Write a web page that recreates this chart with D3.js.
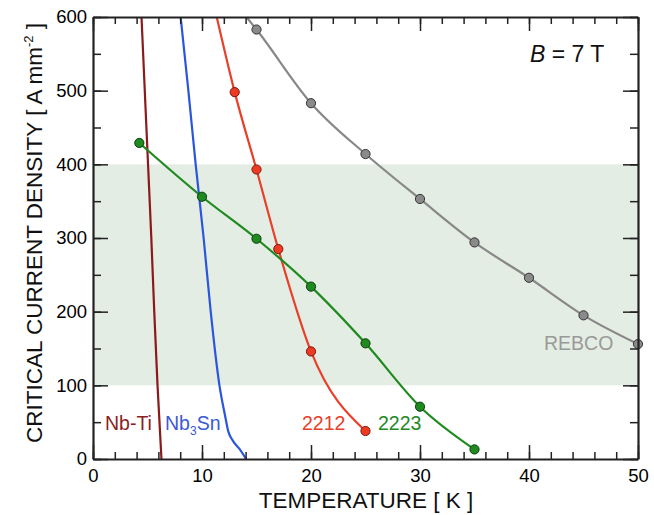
<!DOCTYPE html>
<html>
<head>
<meta charset="utf-8">
<script src="https://cdn.jsdelivr.net/npm/d3@7"></script>
<style>
  html, body { margin: 0; padding: 0; background: #fff; }
  svg { display: block; font-family: "Liberation Sans", Arial, Helvetica, sans-serif; }
</style>
</head>
<body>
<svg id="chart" width="654" height="515"></svg>
<script>
// ---------- DATA ----------
const xTicks = [0, 10, 20, 30, 40, 50];
const yTicks = [0, 100, 200, 300, 400, 500, 600];
const bandRange = [100, 400];

// Nb-Ti (line only): temperature, Jc
const nbtiT  = [4.45, 5.05, 5.35, 5.62, 5.92, 6.28];
const nbtiJ  = [600, 400, 300, 200, 100, 0];

// Nb3Sn (line only)
const nb3snT = [8.04, 8.75, 9.42, 10.15, 10.8, 11.6, 12.1, 12.41, 12.87, 13.49, 14.04];
const nb3snJ = [600, 500, 400, 300, 200, 100, 60, 37.5, 24, 12.6, 0];

// Bi-2212 measured points + line extension to top
const b2212T = [13, 15, 17, 20, 25];
const b2212J = [498, 393, 285, 146, 38];
const b2212ExtT = [11.35];
const b2212ExtJ = [600];

// Bi-2223 measured points
const b2223T = [4.25, 10, 15, 20, 25, 30, 35];
const b2223J = [429, 356, 299, 234, 157, 71, 13];

// REBCO measured points + line extension to top
const rebcoT = [15, 20, 25, 30, 35, 40, 45, 50];
const rebcoJ = [583, 483, 414, 353, 294, 246, 195, 156];
const rebcoExtT = [14.08];
const rebcoExtJ = [600];

// ---------- LAYOUT ----------
const svg = d3.select("#chart");
const L = 93, R = 638, T = 17, B = 459;
const x = d3.scaleLinear().domain([0, 50]).range([L, R]);
const y = d3.scaleLinear().domain([0, 600]).range([B, T]);

const zip = (a, b) => a.map((v, i) => [v, b[i]]);

// clip
svg.append("defs").append("clipPath").attr("id", "plotclip")
  .append("rect").attr("x", L).attr("y", T).attr("width", R - L).attr("height", B - T);

// band
svg.append("rect")
  .attr("x", x(0)).attr("width", x(50) - x(0))
  .attr("y", y(bandRange[1])).attr("height", y(bandRange[0]) - y(bandRange[1]))
  .attr("fill", "#e4ede3");

const plot = svg.append("g").attr("clip-path", "url(#plotclip)");
const line = d3.line().x(d => x(d[0])).y(d => y(d[1])).curve(d3.curveMonotoneX);

const series = [
  { pts: zip(nbtiT, nbtiJ), color: "#8b1a1a", markers: [] },
  { pts: zip(nb3snT, nb3snJ), color: "#2a55dd", markers: [] },
  { pts: zip(b2212ExtT, b2212ExtJ).concat(zip(b2212T, b2212J)), color: "#e8402a",
    markers: zip(b2212T, b2212J), mfill: "#ee3a22", mstroke: "#7a1a10" },
  { pts: zip(b2223T, b2223J), color: "#1f8a1f",
    markers: zip(b2223T, b2223J), mfill: "#1f8a1f", mstroke: "#0d3d0d" },
  { pts: zip(rebcoExtT, rebcoExtJ).concat(zip(rebcoT, rebcoJ)), color: "#888888",
    markers: zip(rebcoT, rebcoJ), mfill: "#8a8a8a", mstroke: "#333333" }
];

series.forEach(s => {
  plot.append("path").datum(s.pts)
    .attr("d", line).attr("fill", "none")
    .attr("stroke", s.color).attr("stroke-width", 2.2);
});
series.forEach(s => {
  svg.append("g").selectAll("circle").data(s.markers).join("circle")
    .attr("cx", d => x(d[0])).attr("cy", d => y(d[1])).attr("r", 4.6)
    .attr("fill", s.mfill).attr("stroke", s.mstroke).attr("stroke-width", 1);
});

// ---------- AXES ----------
const axisColor = "#222";
function styleAxis(g, showDomain) {
  g.selectAll(".tick line").attr("stroke", axisColor).attr("stroke-width", 1.5);
  g.select(".domain").attr("stroke", showDomain ? axisColor : "none").attr("stroke-width", 2.2);
  g.selectAll("text").attr("fill", "#000").attr("font-size", 18.5)
    .attr("font-family", "'Liberation Sans', Arial, Helvetica, sans-serif");
}
const minorX = d3.range(0, 51, 2);
const minorY = d3.range(0, 601, 50);

// bottom
svg.append("g").attr("transform", `translate(0,${B})`)
  .call(d3.axisBottom(x).tickValues(minorX).tickSize(-7).tickSizeOuter(0).tickFormat(""))
  .call(g => styleAxis(g, false));
svg.append("g").attr("transform", `translate(0,${B})`)
  .call(d3.axisBottom(x).tickValues(xTicks).tickSize(-14).tickSizeOuter(0).tickPadding(10).tickFormat(d3.format("d")))
  .call(g => styleAxis(g, true));
// top
svg.append("g").attr("transform", `translate(0,${T})`)
  .call(d3.axisTop(x).tickValues(minorX).tickSize(-7).tickSizeOuter(0).tickFormat(""))
  .call(g => styleAxis(g, false));
svg.append("g").attr("transform", `translate(0,${T})`)
  .call(d3.axisTop(x).tickValues(xTicks).tickSize(-14).tickSizeOuter(0).tickFormat(""))
  .call(g => styleAxis(g, true));
// left
svg.append("g").attr("transform", `translate(${L},0)`)
  .call(d3.axisLeft(y).tickValues(minorY).tickSize(-8).tickSizeOuter(0).tickFormat(""))
  .call(g => styleAxis(g, false));
svg.append("g").attr("transform", `translate(${L},0)`)
  .call(d3.axisLeft(y).tickValues(yTicks).tickSize(-15).tickSizeOuter(0).tickPadding(6).tickFormat(d3.format("d")))
  .call(g => styleAxis(g, true));
// right
svg.append("g").attr("transform", `translate(${R},0)`)
  .call(d3.axisRight(y).tickValues(minorY).tickSize(-8).tickSizeOuter(0).tickFormat(""))
  .call(g => styleAxis(g, false));
svg.append("g").attr("transform", `translate(${R},0)`)
  .call(d3.axisRight(y).tickValues(yTicks).tickSize(-15).tickSizeOuter(0).tickFormat(""))
  .call(g => styleAxis(g, true));

// ---------- TITLES ----------
svg.append("text").attr("x", 366).attr("y", 508).attr("text-anchor", "middle")
  .attr("font-size", 22.5).attr("fill", "#111").text("TEMPERATURE [ K ]");

const yt = svg.append("text").attr("transform", "translate(42,233) rotate(-90)")
  .attr("text-anchor", "middle").attr("font-size", 22.5).attr("fill", "#111");
yt.append("tspan").text("CRITICAL CURRENT DENSITY [ A mm");
yt.append("tspan").attr("font-size", 13).attr("dy", -9).text("-2");
yt.append("tspan").attr("dy", 9).text(" ]");

// B = 7 T
const bt = svg.append("text").attr("x", 530).attr("y", 62).attr("font-size", 23).attr("fill", "#111");
bt.append("tspan").attr("font-style", "italic").text("B");
bt.append("tspan").text(" = 7 T");

// ---------- SERIES LABELS ----------
const lblSize = 19.5;
svg.append("text").attr("x", 105).attr("y", 430).attr("font-size", lblSize).attr("fill", "#8b1e1e").text("Nb-Ti");
const nl = svg.append("text").attr("x", 165).attr("y", 430).attr("font-size", lblSize).attr("fill", "#3a5ad6");
nl.append("tspan").text("Nb");
nl.append("tspan").attr("font-size", 12).attr("dy", 5).text("3");
nl.append("tspan").attr("dy", -5).text("Sn");
svg.append("text").attr("x", 302).attr("y", 430).attr("font-size", lblSize).attr("fill", "#e8402a").text("2212");
svg.append("text").attr("x", 378).attr("y", 430).attr("font-size", lblSize).attr("fill", "#1f8a1f").text("2223");
svg.append("text").attr("x", 544).attr("y", 350).attr("font-size", lblSize).attr("fill", "#999999").text("REBCO");
</script>
</body>
</html>
